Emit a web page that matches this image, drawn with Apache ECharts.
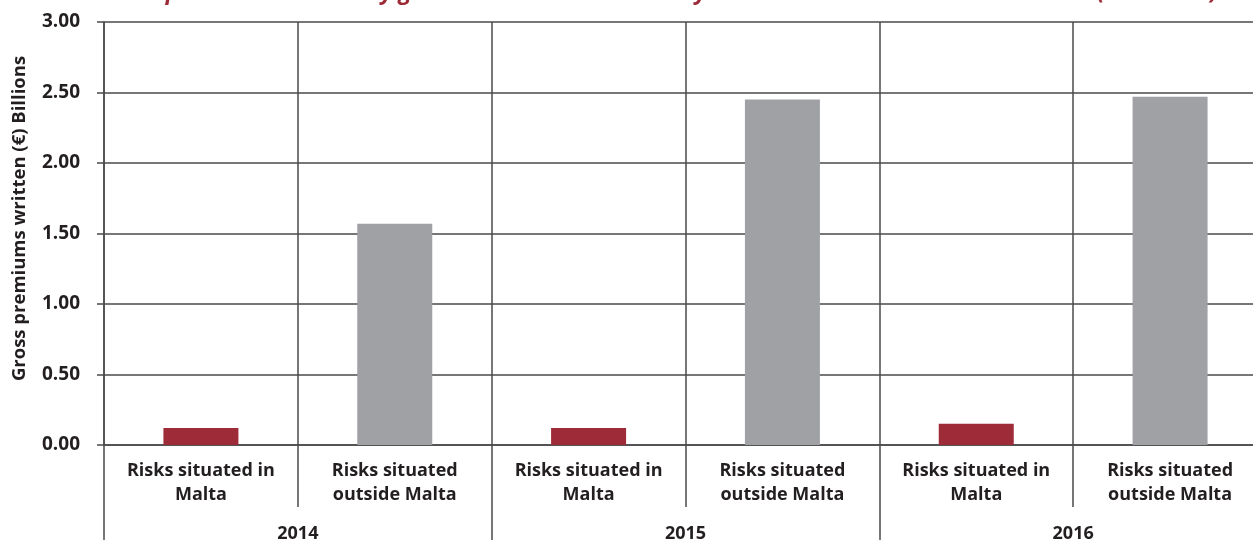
<!DOCTYPE html>
<html>
<head>
<meta charset="utf-8">
<script src="https://cdn.jsdelivr.net/npm/echarts@6/dist/echarts.min.js"></script>
<style>
  html, body { margin: 0; padding: 0; background: #ffffff; }
  #chart { width: 1253px; height: 542px; }
</style>
</head>
<body>
<div id="chart"></div>
<script>
// Gross premiums written (€ billions) by location of risk, per year
const years = ['2014', '2015', '2016'];
const riskTypes = ['Risks situated in\nMalta', 'Risks situated\noutside Malta'];
const inMalta = [0.12, 0.12, 0.15];
const outsideMalta = [1.57, 2.45, 2.47];
const yTicks = [0, 0.5, 1, 1.5, 2, 2.5, 3];

const categories = [];
const redValues = [];
const greyValues = [];
years.forEach((y, i) => {
  categories.push(riskTypes[0]);
  redValues.push(inMalta[i]);
  greyValues.push('-');
  categories.push(riskTypes[1]);
  redValues.push('-');
  greyValues.push(outsideMalta[i]);
});

const textColor = '#231f20';
const lineColor = '#4a4a4a';
const font = '"Open Sans", "Noto Sans", sans-serif';

const chart = echarts.init(document.getElementById('chart'), null, { renderer: 'canvas' });
chart.setOption({
  animation: false,
  backgroundColor: '#ffffff',
  title: {
    text: 'Chart 3: Gross premiums written by general business insurers by risks situated in Malta and outside (€ millions)',
    left: 2,
    top: -24,
    textStyle: { fontFamily: font, fontStyle: 'italic', fontWeight: 'bold', fontSize: 23, color: '#9d2a37' }
  },
  grid: { left: 104, top: 22, width: 1163, height: 423, outerBoundsMode: 'none', containLabel: false },
  xAxis: [
    {
      type: 'category',
      data: categories,
      position: 'bottom',
      axisLine: { show: true, lineStyle: { color: lineColor, width: 1.5 } },
      axisTick: { show: true, length: 62, lineStyle: { color: lineColor, width: 1.5 } },
      splitLine: { show: true, interval: 0, lineStyle: { color: lineColor, width: 1.5 } },
      axisLabel: {
        interval: 0, margin: 14, color: textColor, fontFamily: font,
        fontWeight: 'bold', fontSize: 18, lineHeight: 24
      }
    },
    {
      type: 'category',
      data: years,
      position: 'bottom',
      axisLine: { show: false },
      axisTick: { show: true, length: 95, lineStyle: { color: lineColor, width: 1.5 } },
      splitLine: { show: false },
      axisLabel: {
        interval: 0, margin: 80, color: textColor, fontFamily: font,
        fontWeight: 'bold', fontSize: 18
      }
    }
  ],
  yAxis: {
    type: 'value',
    min: 0, max: 3, interval: 0.5,
    name: 'Gross premiums written (€) Billions',
    nameLocation: 'middle',
    nameGap: 75,
    nameTextStyle: {
      color: textColor, fontFamily: font, fontWeight: 'bold', fontSize: 18.5,
      padding: [0, 0, 0, 30]
    },
    axisLine: { show: true, lineStyle: { color: lineColor, width: 1.5 } },
    axisTick: { show: true, length: 7, lineStyle: { color: lineColor, width: 1.5 } },
    splitLine: { show: true, lineStyle: { color: lineColor, width: 1.5 } },
    axisLabel: {
      margin: 24, color: textColor, fontFamily: font, fontWeight: 'bold', fontSize: 19,
      formatter: v => (yTicks.includes(v) ? v.toFixed(2) : '')
    }
  },
  series: [
    {
      type: 'bar', name: 'Risks situated in Malta', stack: 'risk',
      data: redValues, barWidth: 75, itemStyle: { color: '#9e2b38' }
    },
    {
      type: 'bar', name: 'Risks situated outside Malta', stack: 'risk',
      data: greyValues, barWidth: 75, itemStyle: { color: '#a0a1a5' }
    }
  ]
});
</script>
</body>
</html>
